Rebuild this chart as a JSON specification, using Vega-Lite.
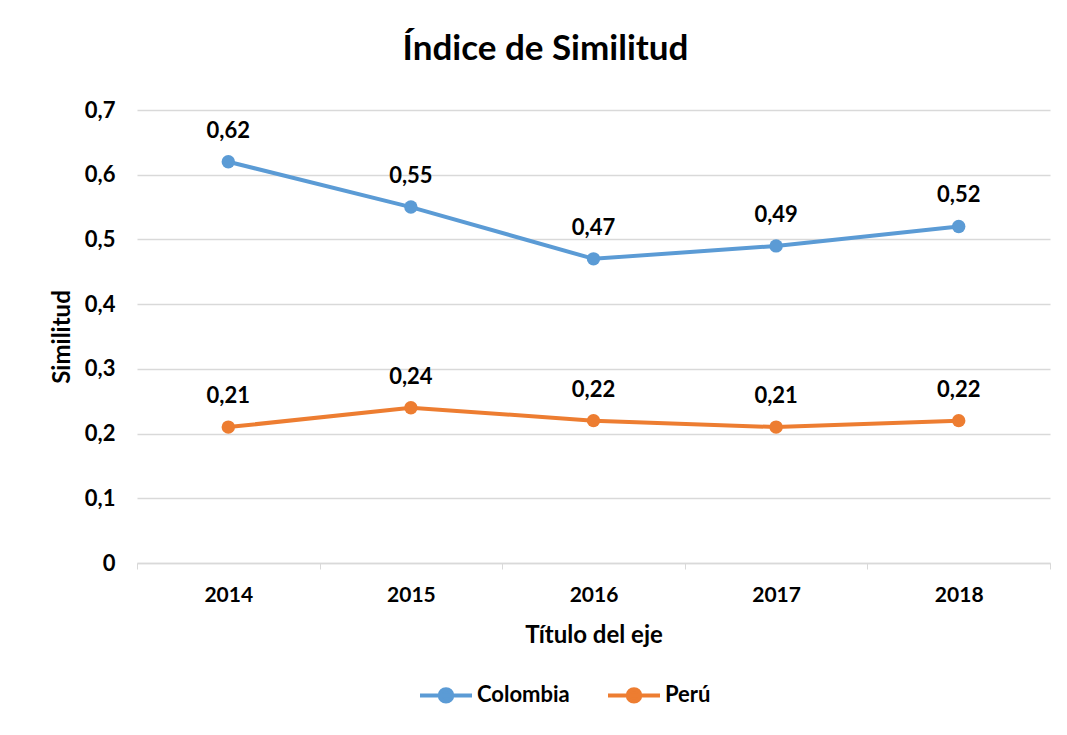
{
  "$schema": "https://vega.github.io/schema/vega-lite/v6.json",
  "autosize": "none",
  "width": 913,
  "height": 453,
  "padding": {"left": 137, "top": 110, "right": 17, "bottom": 172},
  "background": "white",
  "config": {
    "font": "Lato",
    "locale": {"number": {"decimal": ",", "thousands": ".", "grouping": [3], "currency": ["", " €"]}},
    "view": {"stroke": null}
  },
  "title": {
    "text": "Índice de Similitud",
    "fontSize": 35,
    "fontWeight": "bold",
    "color": "#000000",
    "anchor": "middle",
    "dx": -48,
    "offset": 32
  },
  "data": {
    "values": [
      {"year": "2014", "country": "Colombia", "value": 0.62},
      {"year": "2015", "country": "Colombia", "value": 0.55},
      {"year": "2016", "country": "Colombia", "value": 0.47},
      {"year": "2017", "country": "Colombia", "value": 0.49},
      {"year": "2018", "country": "Colombia", "value": 0.52},
      {"year": "2014", "country": "Perú", "value": 0.21},
      {"year": "2015", "country": "Perú", "value": 0.24},
      {"year": "2016", "country": "Perú", "value": 0.22},
      {"year": "2017", "country": "Perú", "value": 0.21},
      {"year": "2018", "country": "Perú", "value": 0.22}
    ]
  },
  "encoding": {
    "x": {
      "field": "year",
      "type": "ordinal",
      "scale": {"type": "band", "paddingInner": 0, "paddingOuter": 0},
      "axis": {
        "title": "Título del eje",
        "labelAngle": 0,
        "labelFontSize": 21,
        "labelFontWeight": "bold",
        "labelColor": "#000000",
        "labelPadding": 15,
        "tickBand": "extent",
        "tickSize": 6,
        "tickColor": "#d9d9d9",
        "domainColor": "#d9d9d9",
        "domainWidth": 1.5,
        "titleFontSize": 24,
        "titleFontWeight": "bold",
        "titleColor": "#000000",
        "titlePadding": 18,
        "grid": false
      }
    },
    "y": {
      "field": "value",
      "type": "quantitative",
      "scale": {"domain": [0, 0.7]},
      "axis": {
        "title": "Similitud",
        "values": [0, 0.1, 0.2, 0.3, 0.4, 0.5, 0.6, 0.7],
        "format": "~g",
        "labelFontSize": 22,
        "labelFontWeight": "bold",
        "labelColor": "#000000",
        "labelPadding": 22,
        "ticks": false,
        "domain": false,
        "grid": true,
        "gridColor": "#d9d9d9",
        "gridWidth": 1.5,
        "titleFontSize": 24,
        "titleFontWeight": "bold",
        "titleColor": "#000000",
        "titlePadding": 10
      }
    },
    "color": {
      "field": "country",
      "type": "nominal",
      "scale": {"domain": ["Colombia", "Perú"], "range": ["#5B9BD5", "#ED7D31"]},
      "legend": {
        "title": null,
        "orient": "none",
        "direction": "horizontal",
        "legendX": 281,
        "legendY": 557,
        "symbolType": "M-1,0H1M0.24,0A0.24,0.24 0 1,1 -0.24,0A0.24,0.24 0 1,1 0.24,0",
        "symbolSize": 2704,
        "symbolStrokeWidth": 4,
        "labelFontSize": 22,
        "labelFontWeight": "bold",
        "labelColor": "#000000",
        "labelOffset": 3,
        "columnPadding": 30,
        "encode": {
          "symbols": {"update": {"fill": {"scale": "color", "field": "value"}, "stroke": {"scale": "color", "field": "value"}, "opacity": {"value": 1}}}
        }
      }
    }
  },
  "layer": [
    {"mark": {"type": "line", "strokeWidth": 4}},
    {"mark": {"type": "point", "filled": true, "size": 180, "opacity": 1}},
    {
      "mark": {"type": "text", "dy": -31, "fontSize": 22, "fontWeight": "bold", "color": "#000000"},
      "encoding": {
        "text": {"field": "value", "type": "quantitative", "format": ".2f"},
        "color": {"value": "#000000"}
      }
    }
  ]
}
